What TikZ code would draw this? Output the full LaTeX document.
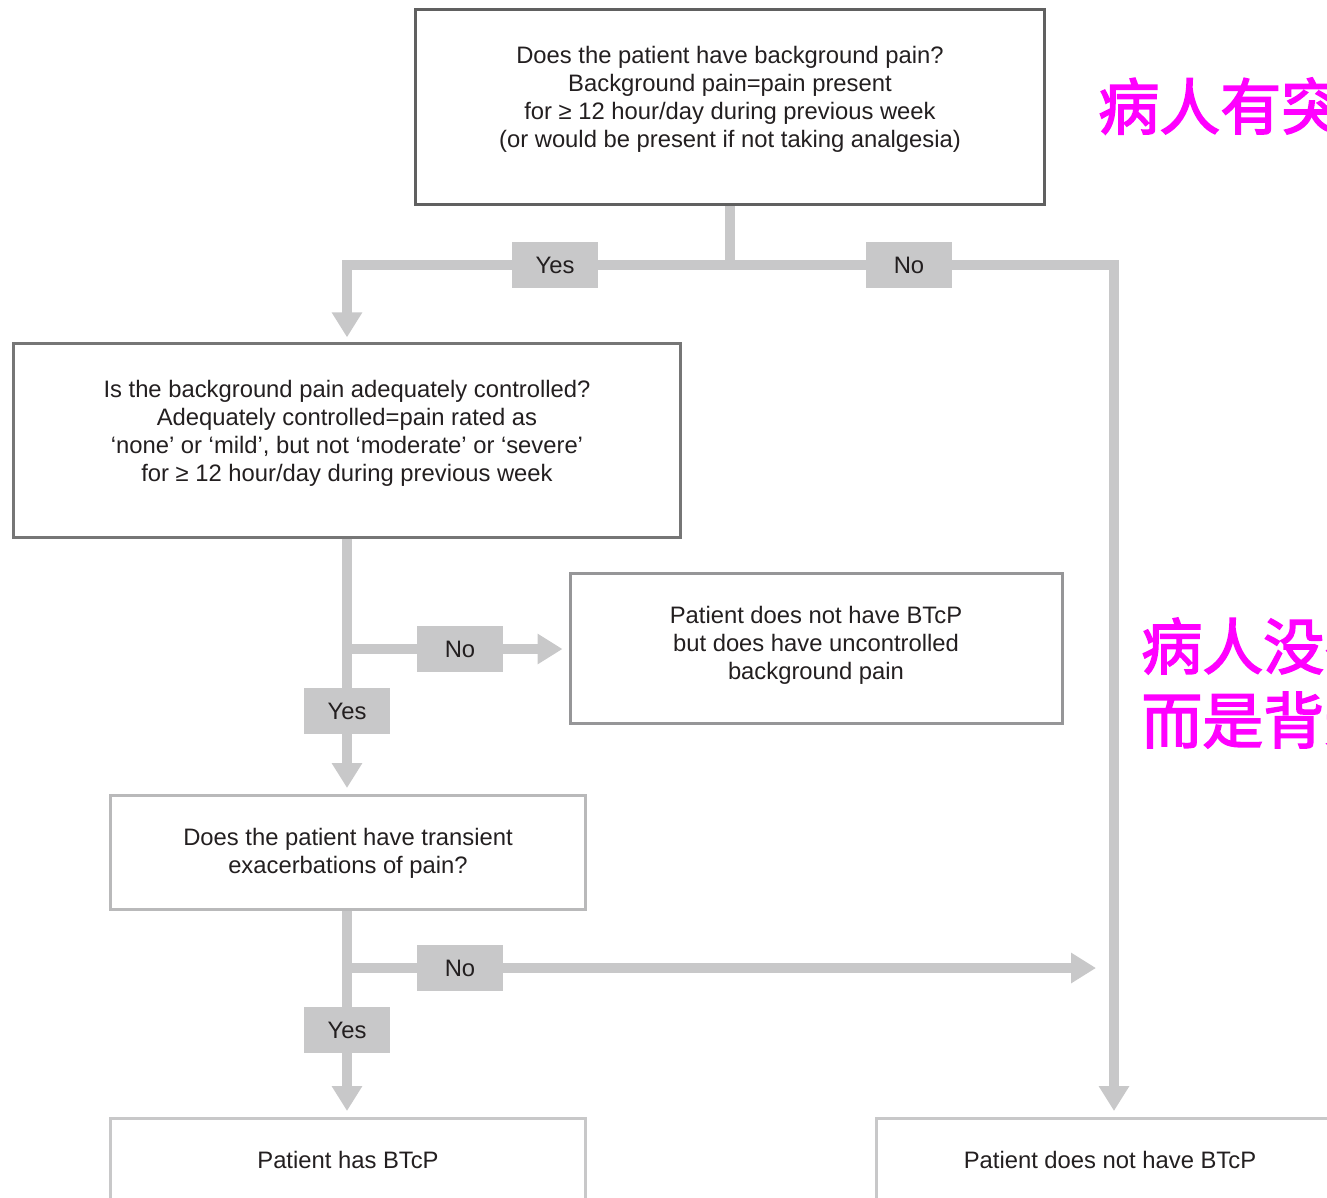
\documentclass[tikz,border=0pt]{standalone}
\usepackage{fontspec}
\setmainfont{Liberation Sans}
\newfontfamily\cjk[FakeBold=2.5]{Noto Sans CJK SC}
\usetikzlibrary{arrows.meta}
\definecolor{connc}{RGB}{200,200,201}
\definecolor{txtc}{RGB}{35,31,32}
\definecolor{bdA}{RGB}{96,96,96}
\definecolor{bdB}{RGB}{118,118,118}
\definecolor{bdC}{RGB}{150,150,152}
\definecolor{bdD}{RGB}{185,185,186}
\definecolor{bdE}{RGB}{200,200,201}
\definecolor{magc}{RGB}{255,0,255}
\begin{document}
\begin{tikzpicture}[x=0.75pt,y=-0.75pt,
  box/.style={draw,line width=2.25pt,rectangle,inner sep=0pt,fill=white},
  txt/.style={text=txtc,align=center,inner sep=0pt,font=\fontsize{17.85}{21}\selectfont},
  lab/.style={fill=connc,minimum width=64.5pt,minimum height=34.5pt,inner sep=0pt,
              text=txtc,font=\fontsize{17.85}{21}\selectfont},
  link/.style={draw=connc,line width=7.9pt},
  arr/.style={link,-{Triangle[length=18.75pt,width=21.75pt]}},
  cn/.style={text=magc,inner sep=0pt,align=left,font=\cjk\fontsize{45.75}{55.5}\selectfont},
]
\useasboundingbox (0,0) rectangle (1327,1197);
\clip (0,0) rectangle (1327,1197);

% boxes
\node[box,draw=bdA,minimum width=471.75pt,minimum height=146.25pt] (b1) at (730,107) {};
\node[box,draw=bdB,minimum width=500.6pt,minimum height=145.5pt] (b2) at (347,440.5) {};
\node[box,draw=bdC,minimum width=369pt,minimum height=112.5pt] (b4) at (816,648.5) {};
\node[box,draw=bdD,minimum width=356.25pt,minimum height=85.5pt] (b3) at (347.5,852.5) {};
\node[box,draw=bdE,minimum width=356.25pt,minimum height=85.5pt] (b5) at (347.5,1175.5) {};
\node[box,draw=bdE,minimum width=356.25pt,minimum height=85.5pt] (b6) at (1114,1175.5) {};

% texts
\node[txt] (t1) at (730,99) {Does the patient have background pain?\\Background pain=pain present\\for ≥ 12 hour/day during previous week\\(or would be present if not taking analgesia)};
\node[txt] (t2) at (347,433) {Is the background pain adequately controlled?\\Adequately controlled=pain rated as\\‘none’ or ‘mild’, but not ‘moderate’ or ‘severe’\\for ≥ 12 hour/day during previous week};
\node[txt] (t4) at (816,645) {Patient does not have BTcP\\but does have uncontrolled\\background pain};
\node[txt] (t3) at (348,853) {Does the patient have transient\\exacerbations of pain?};
\node[txt] (t5) at (348,1160) {Patient has BTcP};
\node[txt] (t6) at (1110,1160) {Patient does not have BTcP};

% labels
\node[lab] (yes1) at (555,265) {Yes};
\node[lab] (no1) at (909,265) {No};
\node[lab] (no2) at (460,649) {No};
\node[lab] (yes2) at (347,711) {Yes};
\node[lab] (no3) at (460,968) {No};
\node[lab] (yes3) at (347,1030) {Yes};

% connectors
\draw[link] (b1.south) |- (yes1.east);
\draw[arr,shorten >=3.5pt] (yes1.west) -| (b2.north);
\draw[link] (b1.south |- no1) -- (no1.west);
\draw[arr,shorten >=4.5pt] (no1.east) -| (b6.north);

\draw[link] (b2.south) -- (yes2.north);
\draw[arr,shorten >=4.5pt] (yes2.south) -- (yes2.south |- b3.north);
\draw[link] (b2.south |- no2) -- (no2.west);
\draw[arr,shorten >=4.5pt] (no2.east) -- (no2.east -| b4.west);

\draw[link] (yes3.north |- b3.south) -- (yes3.north);
\draw[arr,shorten >=4.5pt] (yes3.south) -- (yes3.south |- b5.north);
\draw[link] (yes3.north |- no3) -- (no3.west);
\draw[arr,shorten >=13.5pt] (no3.east) -- (no3.east -| b6.north);

% annotations
\node[cn,anchor=west] (c1) at (1098,106) {病人有突破};
\node[cn,anchor=west] (c2) at (1141,683) {病人没有\\而是背景};
\end{tikzpicture}
\end{document}
